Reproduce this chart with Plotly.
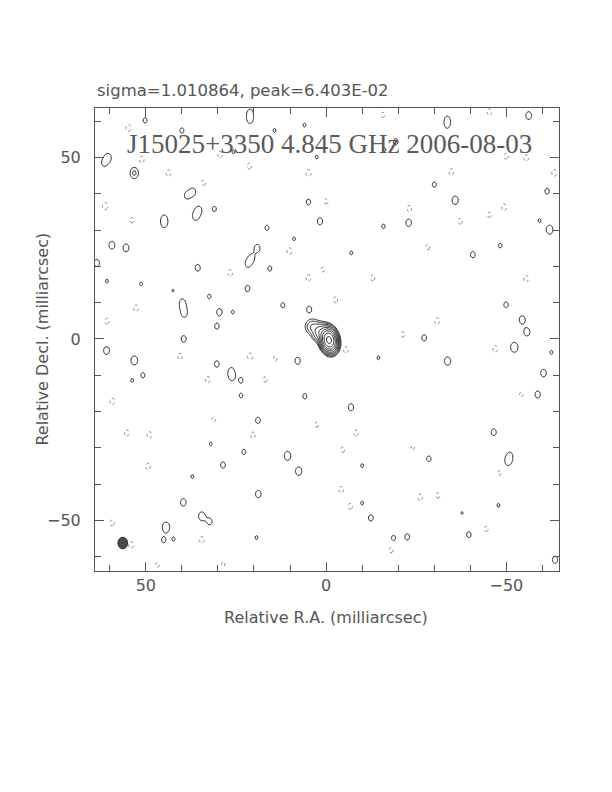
import numpy as np
import plotly.graph_objects as go

# ---------------- data read from the map ----------------
# offsets in milliarcsec (R.A. increases to the left), peaks in units of the lowest contour
pos_x = [50.2, 21.1, 21.1, 40.0, 14.3, 6.0, 25.7, 60.5, 61.6, 53.2, 2.6, 38.6, 36.9, 35.3, 36.2,
         31.0, 4.9, 1.7, 44.9, 44.9, 16.4, 8.9, 59.4, 55.5, 63.6, 19.1, 20.6, 21.7, 35.6,
         15.6, 51.3, 60.8, 21.8, 32.4, 42.5, 39.9, 39.6, 39.3, 29.6, 12.0, 4.7, 30.3, 25.9, 39.5,
         60.9, 53.2, 50.8, 53.8, 30.3, 26.3, 26.2, 23.6, 23.6, 7.9, 5.9, 18.9, 32.0, 22.8, 10.7,
         7.6, 28.6, 37.1, 18.8, 39.6, 34.5, 32.3, 44.4, 45.1, 42.3, 19.3,
         -56.2, -33.6, -33.6, -19.3, -16.2, -30.0, -35.8, -61.3, -62.0, -22.9, -15.9, -7.0,
         -48.3, -40.7, -59.2, -49.9, -54.4, -55.7, -27.2, -52.2, -33.7, -62.5, -60.3, -58.7,
         -14.5, -6.9, -46.5, -28.5, -50.5, -51.0, -10.0, -12.4, -18.7, -22.5, -39.6, -63.5, -10.0,
         -47.8, -37.7]
pos_y = [60.2, 62.3, 60.3, 57.4, 57.4, 58.9, 51.5, 49.9, 48.4, 45.7, 50.1, 39.5, 40.5, 35.5, 33.8,
         35.8, 37.7, 32.4, 33.2, 31.6, 30.6, 27.6, 25.8, 25.1, 20.9, 25.0, 22.3, 20.7, 19.6,
         19.4, 15.2, 15.9, 13.9, 11.7, 13.3, 10.2, 8.5, 6.8, 7.4, 9.3, 8.1, 3.5, 7.4, 0.0,
         -3.2, -5.9, -10.0, -11.4, -6.9, -8.8, -10.5, -11.4, -15.6, -6.0, -15.8, -22.4, -28.9, -31.1, -32.2,
         -36.4, -34.7, -37.9, -42.7, -45.0, -48.8, -50.3, -51.8, -55.4, -55.1, -54.7,
         61.5, 60.6, 58.8, 54.3, 52.1, 42.5, 38.2, 40.7, 30.1, 32.0, 31.0, 23.7,
         25.7, 23.2, 32.6, 9.4, 5.3, 1.9, 0.3, -2.3, -6.1, -3.7, -9.4, -15.3,
         -5.2, -18.8, -25.7, -33.0, -33.7, -32.0, -34.9, -49.3, -54.8, -54.5, -53.9, -60.8, -45.2,
         -45.8, -47.9]
pos_peak = [1.2, 1.3, 1.3, 1.2, 1.1, 1.1, 1.1, 1.6, 1.15, 2.3, 1.1, 1.3, 1.4, 1.4, 1.5,
            1.2, 1.25, 1.4, 1.2, 1.2, 1.2, 1.1, 1.5, 1.5, 1.4, 1.45, 1.3, 1.3, 1.35,
            1.2, 1.1, 1.1, 1.3, 1.15, 1.05, 1.15, 1.0, 1.15, 1.4, 1.2, 1.35, 1.25, 1.1, 1.35,
            1.5, 1.7, 1.2, 1.1, 1.3, 1.2, 1.2, 1.2, 1.15, 1.4, 1.2, 1.3, 1.1, 1.2, 1.7,
            1.6, 1.3, 1.1, 1.45, 1.45, 1.6, 1.3, 1.9, 1.2, 1.1, 1.1,
            1.5, 1.1, 1.1, 1.3, 1.1, 1.2, 1.6, 1.25, 1.7, 1.45, 1.15, 1.1,
            1.15, 1.3, 1.1, 1.25, 1.5, 1.5, 1.3, 1.9, 1.6, 1.1, 1.45, 1.4,
            1.1, 1.4, 1.35, 1.25, 1.5, 1.1, 1.1, 1.3, 1.2, 1.3, 1.25, 1.4, 1.1,
            1.1, 1.05]

neg_x = [54.8, 51.1, 43.7, 61.3, 29.4, 21.3, 4.9, 10.2, 26.6, 4.9, 53.9, 34.0, 60.8, 52.7, 0.9,
         40.5, 21.1, 32.8, 16.9, 59.3, 55.3, 49.0, 20.3, 49.4, 31.1, 59.4, 34.5, 54.1, 14.1, 2.6,
         46.8, 28.5, -49.9, -55.5, -63.3, -34.7, -45.3, -23.1, -49.4, -37.2, -45.3, -28.2, -12.9,
         -55.5, -2.6, -30.8, 0.0, -21.3, -46.9, -5.5, -8.3, -4.6, -4.2, -6.7, -26.1, -31.0, -24.0,
         -44.4, -18.0, -54.1, -48.1, -15.8]
neg_y = [58.1, 49.4, 45.7, 36.6, 50.8, 47.6, 45.7, 24.2, 18.2, 16.8, 32.7, 43.0, 4.9, 8.5, 19.1,
         -4.8, -4.8, -11.2, -11.2, -17.2, -25.9, -26.4, -26.5, -35.1, -22.2, -50.7, -55.3, -56.7, -5.4, -23.6,
         -62.2, -62.0, 50.3, 49.9, 45.7, 46.0, 62.5, 35.9, 36.3, 32.4, 34.2, 25.3, 16.8,
         16.6, 10.8, 4.9, 37.9, 1.2, -2.7, -3.0, -25.9, -30.5, -41.5, -46.1, -43.6, -43.1, -30.0,
         -52.3, -58.2, -15.3, -36.9, 61.7]
neg_peak = [1.35, 1.3, 1.3, 1.4, 1.3, 1.25, 1.35, 1.35, 1.3, 1.3, 1.2, 1.2, 1.25, 1.3, 1.15,
            1.3, 1.35, 1.3, 1.2, 1.3, 1.3, 1.3, 1.3, 1.3, 1.15, 1.25, 1.3, 1.3, 1.15, 1.2,
            1.15, 1.15, 1.25, 1.3, 1.35, 1.3, 1.3, 1.3, 1.3, 1.25, 1.2, 1.2, 1.25,
            1.3, 1.25, 1.3, 1.2, 1.2, 1.3, 1.3, 1.25, 1.2, 1.3, 1.25, 1.3, 1.2, 1.15,
            1.2, 1.2, 1.15, 1.15, 1.2]

# central source components (core + jet)
src_x = [-0.8, 1.5, 3.8]
src_y = [-0.3, 1.8, 3.4]
src_peak = [330.0, 14.0, 4.0]
src_sx = [0.95, 1.2, 1.2]
src_sy = [1.4, 1.3, 1.2]
src_pa = [12.0, 0.0, 0.0]

# restoring beam (noise kernel) and plotted beam ellipse
kernel_sx, kernel_sy = 0.9, 1.2
beam_x, beam_y = [56.4], [-56.2]
beam_major, beam_minor, beam_pa = [3.2], [2.7], [0.0]

major_ticks = [50, 0, -50]
major_labels = ["50", "0", "\u221250"]
minor_ticks = [60, 40, 30, 20, 10, -10, -20, -30, -40, -60]

title_text = "J15025+3350 4.845 GHz 2006-08-03"
info_text = "sigma=1.010864, peak=6.403E-02"

# ---------------- field on a grid ----------------
step = 0.25
xs = np.arange(-65.5, 65.5 + 1e-9, step)
ys = np.arange(-65.5, 65.5 + 1e-9, step)
X, Y = np.meshgrid(xs, ys)


def add_gauss(F, x0, y0, a, sx, sy, pa):
    t = np.radians(pa)
    dx, dy = X - x0, Y - y0
    u = dx * np.cos(t) - dy * np.sin(t)
    v = dx * np.sin(t) + dy * np.cos(t)
    F += a * np.exp(-(u ** 2 / (2 * sx ** 2) + v ** 2 / (2 * sy ** 2)))


fpos = np.zeros_like(X)
for x0, y0, a in zip(pos_x, pos_y, pos_peak):
    add_gauss(fpos, x0, y0, a, kernel_sx, kernel_sy, 0.0)
for x0, y0, a, sx, sy, pa in zip(src_x, src_y, src_peak, src_sx, src_sy, src_pa):
    add_gauss(fpos, x0, y0, a, sx, sy, pa)

fneg = np.zeros_like(X)
for x0, y0, a in zip(neg_x, neg_y, neg_peak):
    add_gauss(fneg, x0, y0, a, kernel_sx, kernel_sy, 0.0)

zpos = np.round(np.log2(np.maximum(fpos, 0.5)), 2)
zneg = np.round(np.minimum(fneg, 2.0), 2)

fig = go.Figure()
fig.add_trace(go.Contour(
    x=np.round(xs, 3).tolist(), y=np.round(ys, 3).tolist(), z=zpos.tolist(),
    autocontour=False,
    contours=dict(start=0, end=8, size=1, coloring="lines"),
    colorscale=[[0, "#111111"], [1, "#111111"]],
    line=dict(width=0.9, smoothing=1),
    showscale=False, hoverinfo="skip"))
fig.add_trace(go.Contour(
    x=np.round(xs, 3).tolist(), y=np.round(ys, 3).tolist(), z=zneg.tolist(),
    autocontour=False,
    contours=dict(start=1, end=1, size=1, coloring="lines"),
    colorscale=[[0, "#777777"], [1, "#777777"]],
    line=dict(width=0.9, dash="dot", smoothing=1),
    showscale=False, hoverinfo="skip"))

# beam ellipse
th = np.linspace(0, 2 * np.pi, 60)
for bx, by, bmaj, bmin, bpa in zip(beam_x, beam_y, beam_major, beam_minor, beam_pa):
    t = np.radians(bpa)
    ex = bmin / 2 * np.cos(th)
    ey = bmaj / 2 * np.sin(th)
    fig.add_trace(go.Scatter(
        x=(bx + ex * np.cos(t) + ey * np.sin(t)).tolist(),
        y=(by - ex * np.sin(t) + ey * np.cos(t)).tolist(),
        mode="lines", fill="toself", fillcolor="#4a4a4a",
        line=dict(color="#222222", width=1), hoverinfo="skip"))

axis_font = dict(family="DejaVu Sans", size=16, color="#555555")
common = dict(
    showgrid=False, zeroline=False, showline=True, linecolor="#555555", linewidth=1,
    mirror="allticks", ticks="inside", ticklen=9, tickcolor="#555555", tickwidth=1,
    tickmode="array", tickvals=major_ticks, ticktext=major_labels, tickfont=axis_font,
    minor=dict(tickmode="array", tickvals=minor_ticks, ticks="inside", ticklen=6,
               tickcolor="#555555", tickwidth=1),
)

# the page body adds an 8 px margin, so the figure is 8 px smaller than the window
fig.update_layout(
    width=604, height=784,
    margin=dict(l=87, r=53, t=100, b=221),
    paper_bgcolor="white", plot_bgcolor="white",
    showlegend=False,
    xaxis=dict(range=[64.1, -64.6], **common),
    yaxis=dict(range=[-63.9, 63.6], ticklabelstandoff=10, **common),
    annotations=[
        dict(text=title_text, xref="paper", yref="paper", x=0.506, y=0.922,
             xanchor="center", yanchor="middle", showarrow=False,
             font=dict(family="Liberation Serif", size=27, color="#5a5a5a")),
        dict(text=info_text, xref="paper", yref="paper", x=0.0, y=1.037,
             xanchor="left", yanchor="middle", showarrow=False,
             font=dict(family="DejaVu Sans", size=16.5, color="#555555")),
        dict(text="Relative R.A. (milliarcsec)", xref="paper", yref="paper",
             x=0.498, y=-0.1015, xanchor="center", yanchor="middle", showarrow=False,
             font=axis_font),
        dict(text="Relative Decl. (milliarcsec)", xref="paper", yref="paper",
             x=-0.114, y=0.5, xanchor="center", yanchor="middle", showarrow=False,
             textangle=-90, font=axis_font),
    ],
)

fig.write_html("out.html")
